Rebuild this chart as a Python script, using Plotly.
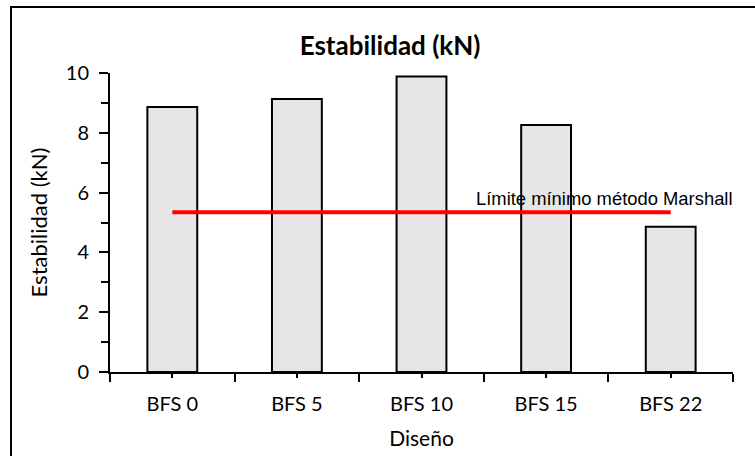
import plotly.graph_objects as go

# Stability per mix design
categories = ["BFS 0", "BFS 5", "BFS 10", "BFS 15", "BFS 22"]
estabilidad = [8.86, 9.13, 9.88, 8.26, 4.86]
limite_marshall = [5.34, 5.34, 5.34, 5.34, 5.34]
limite_label = "Límite mínimo método Marshall"

W, H = 755, 456
ML, MR, MT, MB = 110, 22, 73, 84
plot_w = W - ML - MR
plot_h = H - MT - MB

fig = go.Figure()

fig.add_trace(go.Bar(
    x=categories, y=estabilidad,
    marker=dict(color="#E6E6E6", line=dict(color="black", width=2)),
    width=0.4, xaxis="x", yaxis="y", showlegend=False,
))

fig.add_trace(go.Scatter(
    x=categories, y=limite_marshall, mode="lines",
    line=dict(color="#FF0000", width=4),
    xaxis="x2", yaxis="y", showlegend=False,
))

fig.add_annotation(
    x=1.003, xref="paper", y=limite_marshall[-1], yref="y",
    text=limite_label, showarrow=False,
    xanchor="right", yanchor="middle", yshift=14,
    font=dict(family="Liberation Sans, Arial", size=18.4, color="black"),
)

# Frame around the chart
fig.add_shape(
    type="rect", xref="paper", yref="paper",
    x0=(11 - ML) / plot_w, x1=2, y0=-2, y1=(H - MB - 7) / plot_h,
    line=dict(color="black", width=2), fillcolor="rgba(0,0,0,0)",
    layer="above",
)

tick_font = dict(family="Lato", size=20, color="black")

fig.update_layout(
    width=W, height=H,
    margin=dict(l=ML, r=MR, t=MT, b=MB),
    paper_bgcolor="white", plot_bgcolor="white",
    title=dict(
        text="<b>Estabilidad (kN)</b>",
        font=dict(family="Lato", size=26, color="black"),
        x=390 / W, xref="container", xanchor="center",
        y=1 - 46 / H, yref="container", yanchor="middle",
    ),
    xaxis=dict(
        type="category", categoryorder="array", categoryarray=categories,
        range=[-0.5, 4.5], tickson="boundaries", automargin=False,
        ticks="outside", ticklen=8, tickwidth=2, tickcolor="black",
        showline=True, linecolor="black", linewidth=2,
        showgrid=False, zeroline=False,
        tickfont=tick_font, ticklabelstandoff=13,
        title=dict(text="Diseño", font=dict(family="Lato", size=21, color="black"), standoff=17),
    ),
    xaxis2=dict(
        type="category", categoryorder="array", categoryarray=categories,
        range=[-0.5, 4.5], overlaying="x", anchor="y", side="bottom",
        ticks="outside", ticklen=5, tickwidth=2, tickcolor="black",
        showticklabels=False, showline=False, showgrid=False, zeroline=False,
        automargin=False,
    ),
    yaxis=dict(
        range=[0, 10], dtick=2, tick0=0, automargin=False,
        ticks="outside", ticklen=9, tickwidth=2, tickcolor="black",
        minor=dict(dtick=1, tick0=0, ticks="outside", ticklen=7, tickwidth=2, tickcolor="black", showgrid=False),
        showline=True, linecolor="black", linewidth=2,
        showgrid=False, zeroline=False,
        tickfont=tick_font, ticklabelstandoff=6,
        title=dict(text="Estabilidad (kN)", font=dict(family="Lato", size=22, color="black"), standoff=12),
    ),
)

fig.write_html("out.html")
